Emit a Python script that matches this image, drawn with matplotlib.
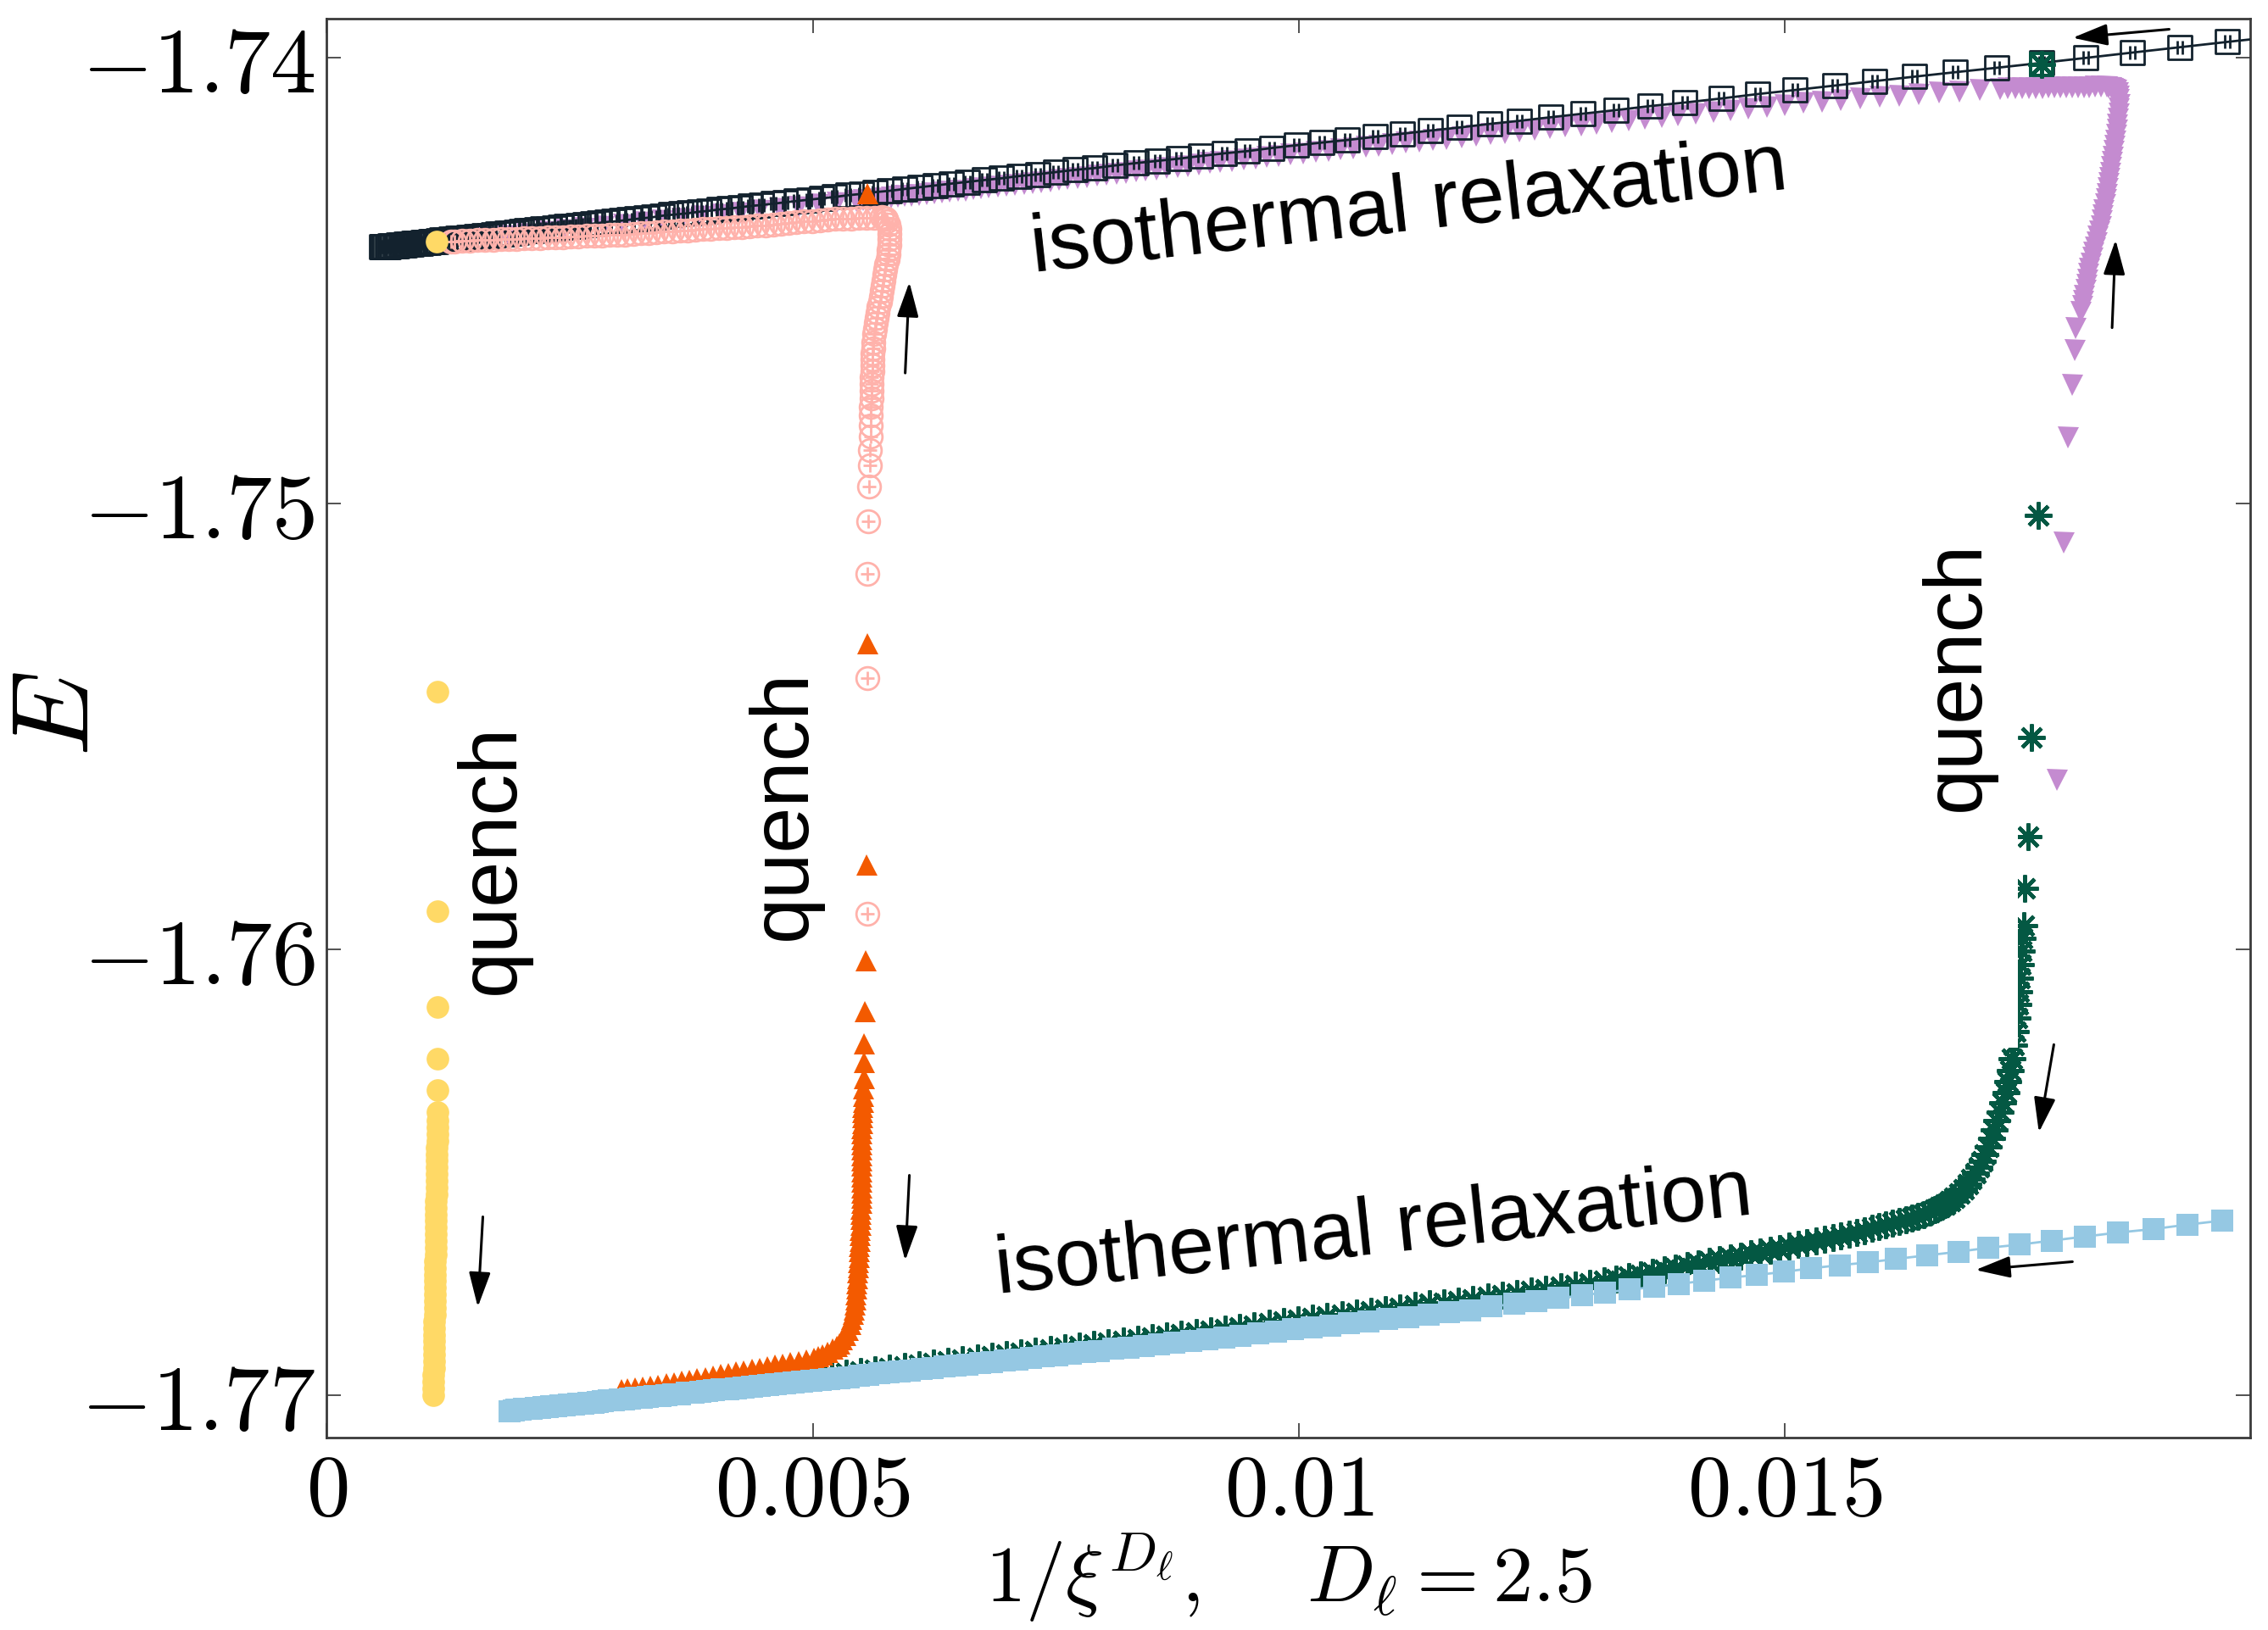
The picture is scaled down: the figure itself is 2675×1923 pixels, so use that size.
import numpy as np
import matplotlib
matplotlib.use("Agg")
import matplotlib.pyplot as plt
from matplotlib.path import Path
from matplotlib.patches import Rectangle

plt.rcParams['mathtext.fontset'] = 'cm'
plt.rcParams['font.family'] = ['DejaVu Serif']

# ---------------- data: (1/xi^D in units of 1e-3, E) ----------------
black_pts = [(20.06,-1.73953),(19.55,-1.73965),(19.06,-1.73977),(18.57,-1.73989),(18.09,-1.74001),(17.64,-1.74012),(17.18,-1.74023),(16.75,-1.74033),(16.33,-1.74043),(15.92,-1.74053),(15.51,-1.74063),(15.10,-1.74073),(14.72,-1.74082),(14.34,-1.74092),(13.97,-1.74101),(13.61,-1.74109),(13.26,-1.74118),(12.92,-1.74126),(12.59,-1.74134),(12.27,-1.74142),(11.96,-1.74149),(11.65,-1.74157),(11.35,-1.74164),(11.06,-1.74171),(10.78,-1.74178),(10.50,-1.74185),(10.23,-1.74191),(9.97,-1.74197),(9.72,-1.74203),(9.47,-1.74210),(9.23,-1.74215),(8.99,-1.74221),(8.76,-1.74227),(8.54,-1.74232),(8.32,-1.74237),(8.11,-1.74242),(7.90,-1.74248),(7.70,-1.74252),(7.50,-1.74257),(7.31,-1.74262),(7.12,-1.74266),(6.94,-1.74271),(6.76,-1.74275),(6.59,-1.74279),(6.42,-1.74283),(6.26,-1.74287),(6.10,-1.74291),(5.94,-1.74295),(5.79,-1.74299),(5.64,-1.74302),(5.50,-1.74306),(5.36,-1.74309),(5.22,-1.74313),(5.09,-1.74316),(4.96,-1.74319),(4.83,-1.74322),(4.71,-1.74325),(4.59,-1.74328),(4.47,-1.74331),(4.36,-1.74333),(4.25,-1.74336),(4.14,-1.74339),(4.03,-1.74341),(3.93,-1.74344),(3.83,-1.74346),(3.73,-1.74349),(3.64,-1.74351),(3.54,-1.74353),(3.45,-1.74355),(3.36,-1.74358),(3.28,-1.74360),(3.19,-1.74362),(3.11,-1.74364),(3.03,-1.74366),(2.95,-1.74368),(2.88,-1.74369),(2.80,-1.74371),(2.73,-1.74373),(2.66,-1.74375),(2.59,-1.74376),(2.53,-1.74378),(2.46,-1.74379),(2.40,-1.74381),(2.34,-1.74382),(2.28,-1.74384),(2.22,-1.74385),(2.16,-1.74387),(2.11,-1.74388),(2.05,-1.74389),(2.00,-1.74391),(1.95,-1.74392),(1.90,-1.74393),(1.85,-1.74394),(1.80,-1.74395),(1.76,-1.74396),(1.71,-1.74398),(1.67,-1.74399),(1.62,-1.74400),(1.58,-1.74401),(1.54,-1.74402),(1.50,-1.74403),(1.46,-1.74404),(1.42,-1.74405),(1.39,-1.74405),(1.35,-1.74406),(1.32,-1.74407),(1.28,-1.74408),(1.25,-1.74409),(1.22,-1.74409),(1.18,-1.74410),(1.15,-1.74411),(1.12,-1.74412),(1.09,-1.74413),(1.07,-1.74413),(1.04,-1.74414),(1.01,-1.74415),(0.99,-1.74415),(0.96,-1.74416),(0.94,-1.74416),(0.91,-1.74417),(0.89,-1.74417),(0.87,-1.74418),(0.84,-1.74419),(0.82,-1.74419),(0.80,-1.74420),(0.78,-1.74420),(0.76,-1.74421),(0.74,-1.74421),(0.72,-1.74422),(0.70,-1.74422),(0.68,-1.74423),(0.67,-1.74423),(0.65,-1.74423),(0.63,-1.74424),(0.62,-1.74424),(0.60,-1.74425),(0.59,-1.74425),(0.57,-1.74425),(0.56,-1.74425)]

violet_pts = [(17.794,-1.75621),(17.867,-1.75088),(17.907,-1.74853),(17.955,-1.74734),(17.975,-1.74657),(17.990,-1.74606),
(18.040,-1.74570),(18.058,-1.74558),(18.068,-1.74546),(18.078,-1.74534),(18.088,-1.74522),(18.098,-1.74510),(18.108,-1.74498),(18.118,-1.74486),(18.129,-1.74474),(18.143,-1.74462),(18.158,-1.74450),(18.173,-1.74438),(18.188,-1.74426),(18.203,-1.74414),(18.218,-1.74402),(18.233,-1.74390),(18.248,-1.74378),(18.258,-1.74366),(18.268,-1.74354),(18.278,-1.74342),(18.288,-1.74330),(18.298,-1.74318),(18.308,-1.74306),(18.318,-1.74294),(18.328,-1.74282),(18.337,-1.74270),(18.346,-1.74258),(18.355,-1.74246),(18.364,-1.74234),(18.373,-1.74222),(18.382,-1.74210),(18.391,-1.74198),(18.400,-1.74186),(18.406,-1.74174),(18.412,-1.74162),(18.418,-1.74150),(18.424,-1.74138),(18.430,-1.74126),(18.436,-1.74114),(18.438,-1.74104),(18.436,-1.74094),(18.430,-1.74085),(18.420,-1.74078),(18.406,-1.74073),(18.390,-1.74070),(18.372,-1.74068),(18.352,-1.74067),(18.330,-1.74066),(18.306,-1.74065),
(18.25,-1.74065),(18.19,-1.74065),(18.13,-1.74066),(18.07,-1.74066),(18.01,-1.74066),(17.95,-1.74066),(17.89,-1.74067),(17.83,-1.74067),(17.77,-1.74067),(17.71,-1.74067),(17.65,-1.74068),(17.58,-1.74068),(17.51,-1.74068),(17.44,-1.74069),(17.37,-1.74069),(17.29,-1.74069),(17.21,-1.74070),
(17.00,-1.74072),(16.79,-1.74076),(16.58,-1.74079),(16.37,-1.74082),(16.17,-1.74085),(15.97,-1.74088),(15.77,-1.74091),(15.57,-1.74095),(15.38,-1.74099),(15.19,-1.74102),(15.00,-1.74106),(14.81,-1.74110),(14.62,-1.74114),(14.44,-1.74118),(14.26,-1.74122),(14.08,-1.74126),(13.90,-1.74130),(13.73,-1.74134),(13.56,-1.74137),(13.39,-1.74141),(13.22,-1.74145),(13.06,-1.74148),(12.90,-1.74152),(12.74,-1.74155),(12.58,-1.74159),(12.42,-1.74162),(12.27,-1.74166),(12.12,-1.74169),(11.97,-1.74172),(11.82,-1.74176),(11.67,-1.74179),(11.52,-1.74182),(11.38,-1.74185),(11.24,-1.74188),(11.10,-1.74191),(10.96,-1.74195),(10.82,-1.74198),(10.69,-1.74200),(10.56,-1.74203),(10.43,-1.74206),(10.30,-1.74209),(10.17,-1.74212),(10.04,-1.74215),(9.91,-1.74217),(9.79,-1.74220),(9.67,-1.74223),(9.55,-1.74226),(9.43,-1.74229),(9.31,-1.74232),(9.19,-1.74235),(9.08,-1.74237),(8.97,-1.74240),(8.86,-1.74243),(8.75,-1.74245),(8.64,-1.74248),(8.53,-1.74251),(8.42,-1.74253),(8.32,-1.74256),(8.22,-1.74258),(8.12,-1.74261),(8.02,-1.74263),(7.92,-1.74265),(7.82,-1.74268),(7.72,-1.74270),(7.62,-1.74273),(7.53,-1.74275),(7.44,-1.74277),(7.35,-1.74279),(7.26,-1.74281),(7.17,-1.74283),(7.08,-1.74286),(6.99,-1.74288),(6.90,-1.74290),(6.81,-1.74292),(6.73,-1.74294),(6.65,-1.74296),(6.57,-1.74298),(6.49,-1.74299),(6.41,-1.74301),(6.33,-1.74303),(6.25,-1.74305),(6.17,-1.74306),(6.09,-1.74308),(6.01,-1.74310),(5.94,-1.74311),(5.87,-1.74313),(5.80,-1.74314),(5.73,-1.74316),(5.66,-1.74317),(5.59,-1.74319),(5.52,-1.74320),(5.45,-1.74322),
(5.25,-1.74326),(5.05,-1.74330),(4.85,-1.74335),(4.65,-1.74339),(4.45,-1.74343),(4.25,-1.74348),(4.05,-1.74352),(3.85,-1.74356),(3.65,-1.74361),(3.45,-1.74365),(3.25,-1.74369),(3.05,-1.74374),(2.85,-1.74378),(2.65,-1.74382),(2.45,-1.74387),(2.25,-1.74391),(2.05,-1.74395),(1.85,-1.74399),(1.65,-1.74404),(1.45,-1.74408),(1.30,-1.74411)]

pink_pts = [(5.556,-1.75921),(5.556,-1.75393),(5.563,-1.75159),(5.572,-1.75041),(5.580,-1.74963),(5.586,-1.74914),(5.589,-1.74880),(5.592,-1.74850),(5.594,-1.74825),(5.597,-1.74803),(5.599,-1.74783),(5.601,-1.74765),(5.603,-1.74748),(5.605,-1.74732),(5.607,-1.74717),(5.609,-1.74703),(5.611,-1.74690),(5.613,-1.74677),(5.615,-1.74664),(5.617,-1.74652),(5.619,-1.74640),
(5.629,-1.74620),(5.638,-1.74608),(5.648,-1.74596),(5.658,-1.74584),(5.668,-1.74572),(5.677,-1.74560),(5.687,-1.74548),(5.697,-1.74536),(5.707,-1.74524),(5.716,-1.74512),(5.726,-1.74500),(5.736,-1.74488),(5.746,-1.74476),(5.755,-1.74464),(5.765,-1.74452),(5.775,-1.74442),(5.782,-1.74432),(5.787,-1.74420),(5.789,-1.74408),(5.788,-1.74396),(5.783,-1.74385),(5.775,-1.74375),(5.763,-1.74367),(5.748,-1.74362),(5.730,-1.74359),(5.710,-1.74358),
(5.63,-1.74359),(5.55,-1.74360),(5.47,-1.74360),(5.39,-1.74361),(5.31,-1.74361),(5.23,-1.74362),(5.15,-1.74364),(5.07,-1.74365),(4.99,-1.74367),(4.91,-1.74368),(4.83,-1.74370),(4.75,-1.74371),(4.67,-1.74373),(4.59,-1.74374),(4.51,-1.74376),(4.43,-1.74377),(4.35,-1.74378),(4.27,-1.74380),(4.19,-1.74381),(4.11,-1.74382),(4.03,-1.74383),(3.95,-1.74384),(3.87,-1.74385),(3.79,-1.74387),(3.71,-1.74388),(3.63,-1.74389),(3.55,-1.74390),(3.47,-1.74391),(3.39,-1.74392),(3.31,-1.74393),(3.23,-1.74394),(3.15,-1.74395),(3.07,-1.74397),(2.99,-1.74397),(2.91,-1.74398),(2.83,-1.74399),(2.75,-1.74400),(2.67,-1.74400),(2.59,-1.74401),(2.51,-1.74402),(2.43,-1.74403),(2.35,-1.74403),(2.27,-1.74404),(2.19,-1.74405),(2.11,-1.74405),(2.03,-1.74406),(1.95,-1.74407),(1.87,-1.74408),(1.79,-1.74408),(1.71,-1.74409),(1.63,-1.74410),(1.55,-1.74410),(1.47,-1.74411),(1.39,-1.74411),(1.31,-1.74412),(1.28,-1.74412)]

green_pts = [(17.64,-1.74015),(17.60,-1.75028),(17.535,-1.75526),(17.497,-1.75748),(17.467,-1.75864),(17.452,-1.75948),(17.440,-1.75975),(17.432,-1.76005),(17.424,-1.76035),(17.415,-1.76065),(17.405,-1.76095),(17.394,-1.76125),(17.382,-1.76155),(17.368,-1.76185),(17.352,-1.76215),(17.334,-1.76245),(17.314,-1.76272),(17.292,-1.76298),(17.268,-1.76322),(17.240,-1.76344),(17.210,-1.76365),(17.180,-1.76385),(17.150,-1.76405),(17.120,-1.76425),(17.090,-1.76443),(17.058,-1.76460),(17.024,-1.76476),(16.990,-1.76490),(16.954,-1.76503),(16.916,-1.76515),(16.876,-1.76527),(16.834,-1.76538),(16.790,-1.76548),(16.744,-1.76557),(16.696,-1.76565),(16.646,-1.76572),(16.594,-1.76579),(16.540,-1.76585),(16.484,-1.76590),(16.426,-1.76595),(16.366,-1.76599),(16.304,-1.76603),(16.240,-1.76607),(16.174,-1.76611),(16.106,-1.76615),(16.036,-1.76619),(15.964,-1.76623),(15.890,-1.76627),(15.814,-1.76631),(15.736,-1.76635),(15.656,-1.76639),(15.574,-1.76643),(15.490,-1.76647),(15.404,-1.76651),(15.316,-1.76655),(15.226,-1.76659),(15.134,-1.76663),(15.040,-1.76667),(14.944,-1.76671),(14.846,-1.76675),(14.746,-1.76679),(14.644,-1.76683),(14.540,-1.76688),(14.434,-1.76692),(14.326,-1.76697),(14.216,-1.76701),(14.104,-1.76706),(13.990,-1.76710),(13.874,-1.76715),(13.756,-1.76720),(13.636,-1.76725),(13.514,-1.76730),(13.390,-1.76735),(13.264,-1.76740),(13.136,-1.76745),
(12.99,-1.76749),(12.84,-1.76754),(12.69,-1.76758),(12.54,-1.76763),(12.39,-1.76767),(12.24,-1.76772),(12.09,-1.76776),(11.94,-1.76781),(11.79,-1.76785),(11.64,-1.76789),(11.49,-1.76793),(11.34,-1.76796),(11.19,-1.76800),(11.04,-1.76804),(10.89,-1.76808),(10.74,-1.76812),(10.59,-1.76816),(10.44,-1.76820),(10.29,-1.76824),(10.14,-1.76828),(9.99,-1.76832),(9.84,-1.76836),(9.69,-1.76840),(9.54,-1.76844),(9.39,-1.76848),(9.24,-1.76852),(9.09,-1.76856),(8.94,-1.76860),(8.79,-1.76863),(8.64,-1.76867),(8.49,-1.76871),(8.34,-1.76875),(8.19,-1.76879),(8.04,-1.76883),(7.89,-1.76886),(7.74,-1.76890),(7.59,-1.76894),(7.44,-1.76898),(7.29,-1.76902),(7.14,-1.76906),(6.99,-1.76910),(6.84,-1.76913),(6.69,-1.76917),(6.54,-1.76921),(6.39,-1.76925),(6.24,-1.76929),(6.09,-1.76933),(5.94,-1.76937),(5.79,-1.76940),(5.64,-1.76944),(5.49,-1.76948),(5.34,-1.76952),(5.19,-1.76956),(5.04,-1.76960)]

orange_pts = [(5.556,-1.74304),(5.556,-1.75315),(5.552,-1.75810),(5.543,-1.76025),(5.534,-1.76140),(5.528,-1.76211),(5.525,-1.76253),(5.522,-1.76289),(5.520,-1.76312),
(5.518,-1.76330),(5.514,-1.76342),(5.511,-1.76354),(5.508,-1.76366),(5.506,-1.76378),(5.504,-1.76390),(5.502,-1.76402),(5.501,-1.76414),(5.500,-1.76426),(5.499,-1.76438),(5.498,-1.76450),(5.497,-1.76462),(5.497,-1.76474),(5.496,-1.76486),(5.496,-1.76498),(5.496,-1.76510),(5.496,-1.76522),(5.496,-1.76534),(5.496,-1.76546),(5.496,-1.76558),
(5.495,-1.76570),(5.493,-1.76582),(5.491,-1.76594),(5.489,-1.76606),(5.487,-1.76618),(5.484,-1.76630),(5.482,-1.76642),(5.479,-1.76654),(5.476,-1.76666),(5.473,-1.76678),(5.469,-1.76690),(5.466,-1.76702),(5.462,-1.76714),(5.458,-1.76726),(5.454,-1.76738),(5.450,-1.76750),(5.446,-1.76762),(5.441,-1.76774),(5.436,-1.76786),(5.431,-1.76797),
(5.422,-1.76808),(5.411,-1.76819),(5.398,-1.76830),(5.382,-1.76841),(5.359,-1.76855),(5.330,-1.76866),(5.300,-1.76876),(5.270,-1.76884),(5.242,-1.76890),(5.200,-1.76897),(5.150,-1.76904),(5.100,-1.76910),(5.055,-1.76914),(5.010,-1.76918),
(4.93,-1.76921),(4.85,-1.76924),(4.77,-1.76927),(4.69,-1.76930),(4.61,-1.76933),(4.53,-1.76936),(4.45,-1.76939),(4.37,-1.76942),(4.29,-1.76945),(4.21,-1.76948),(4.13,-1.76951),(4.05,-1.76954),(3.97,-1.76957),(3.89,-1.76960),(3.81,-1.76963),(3.73,-1.76966),(3.65,-1.76969),(3.57,-1.76972),(3.49,-1.76975),(3.41,-1.76977),(3.33,-1.76979),(3.25,-1.76981),(3.17,-1.76983),(3.09,-1.76985),(3.03,-1.76987)]

blue_pts = [(19.50,-1.76609),(19.14,-1.76618),(18.79,-1.76628),(18.42,-1.76636),(18.08,-1.76645),(17.74,-1.76654),(17.41,-1.76663),(17.09,-1.76670),(16.78,-1.76679),(16.46,-1.76687),(16.14,-1.76695),(15.85,-1.76703),(15.56,-1.76709),(15.27,-1.76716),(14.99,-1.76724),(14.71,-1.76731),(14.44,-1.76737),(14.17,-1.76744),(13.91,-1.76751),(13.65,-1.76758),(13.40,-1.76764),(13.15,-1.76770),(12.91,-1.76777),(12.67,-1.76783),(12.44,-1.76789),(12.21,-1.76796),(11.98,-1.76802),(11.76,-1.76810),(11.54,-1.76815),(11.33,-1.76820),(11.12,-1.76825),(10.91,-1.76830),(10.71,-1.76835),(10.51,-1.76840),(10.32,-1.76844),(10.13,-1.76849),(9.94,-1.76853),(9.76,-1.76858),(9.58,-1.76862),(9.40,-1.76867),(9.23,-1.76871),(9.06,-1.76875),(8.89,-1.76879),(8.72,-1.76883),(8.56,-1.76887),(8.40,-1.76890),(8.25,-1.76894),(8.09,-1.76897),(7.94,-1.76901),(7.80,-1.76904),(7.65,-1.76907),(7.51,-1.76911),(7.37,-1.76914),(7.24,-1.76917),(7.10,-1.76920),(6.97,-1.76923),(6.84,-1.76926),(6.72,-1.76929),(6.59,-1.76932),(6.47,-1.76934),(6.35,-1.76937),(6.23,-1.76940),(6.12,-1.76942),(6.00,-1.76945),(5.89,-1.76948),(5.78,-1.76950),(5.68,-1.76952),(5.57,-1.76955),(5.47,-1.76957),(5.37,-1.76960),(5.27,-1.76962),(5.17,-1.76964),(5.08,-1.76966),(4.98,-1.76968),(4.89,-1.76970),(4.80,-1.76972),(4.71,-1.76974),(4.62,-1.76976),(4.54,-1.76978),(4.45,-1.76980),(4.37,-1.76982),(4.29,-1.76983),(4.21,-1.76985),(4.13,-1.76987),(4.06,-1.76988),(3.98,-1.76990),(3.91,-1.76992),(3.84,-1.76993),(3.77,-1.76995),(3.70,-1.76996),(3.63,-1.76998),(3.56,-1.76999),(3.49,-1.77001),(3.43,-1.77002),(3.37,-1.77003),(3.30,-1.77005),(3.24,-1.77006),(3.18,-1.77007),(3.12,-1.77009),(3.06,-1.77010),(3.01,-1.77011),(2.95,-1.77012),(2.90,-1.77013),(2.84,-1.77015),(2.79,-1.77016),(2.74,-1.77017),(2.69,-1.77018),(2.64,-1.77019),(2.59,-1.77020),(2.54,-1.77021),(2.49,-1.77022),(2.45,-1.77023),(2.40,-1.77024),(2.36,-1.77025),(2.31,-1.77026),(2.27,-1.77027),(2.23,-1.77028),(2.19,-1.77029),(2.15,-1.77030),(2.11,-1.77031),(2.07,-1.77031),(2.03,-1.77032),(1.99,-1.77033),(1.95,-1.77034),(1.92,-1.77035),(1.88,-1.77036)]

yellow_pts = [(1.130,-1.74412),(1.137,-1.75422),(1.137,-1.75915),(1.137,-1.76130),(1.137,-1.76246),(1.137,-1.76317),(1.137,-1.76365),(1.137,-1.76385),
(1.136,-1.76400),(1.135,-1.76415),(1.134,-1.76430),(1.133,-1.76445),(1.132,-1.76460),(1.131,-1.76475),(1.130,-1.76490),(1.129,-1.76505),(1.128,-1.76520),(1.127,-1.76535),(1.126,-1.76550),(1.125,-1.76565),(1.124,-1.76580),(1.123,-1.76595),(1.122,-1.76610),(1.121,-1.76625),(1.120,-1.76640),(1.119,-1.76655),(1.118,-1.76670),(1.117,-1.76685),(1.116,-1.76700),(1.115,-1.76715),(1.114,-1.76730),(1.113,-1.76745),(1.112,-1.76760),(1.111,-1.76775),(1.110,-1.76790),(1.109,-1.76805),(1.108,-1.76820),(1.107,-1.76835),(1.106,-1.76850),(1.105,-1.76865),(1.104,-1.76880),(1.103,-1.76895),(1.102,-1.76910),(1.101,-1.76925),(1.100,-1.76940),(1.099,-1.76955),(1.098,-1.76970),(1.097,-1.76985),(1.096,-1.77000)]

xticks = [0, 0.005, 0.01, 0.015]
xtick_labels = ['$0$', '$0.005$', '$0.01$', '$0.015$']
yticks = [-1.77, -1.76, -1.75, -1.74]
ytick_labels = ['$-1.77$', '$-1.76$', '$-1.75$', '$-1.74$']

# ---------------- styles ----------------
c_black = '#13222e'
c_violet = '#c48bd0'
c_pink = '#ffb2ab'
c_green = '#045843'
c_orange = '#f35a00'
c_blue = '#95c8e3'
c_yellow = '#ffd966'

sq = Path([(-1, -1), (1, -1), (1, 1), (-1, 1), (-1, -1)],
          [Path.MOVETO, Path.LINETO, Path.LINETO, Path.LINETO, Path.CLOSEPOLY])
bars = Path([(-0.22, -0.62), (-0.22, 0.62), (0.22, -0.62), (0.22, 0.62)],
            [Path.MOVETO, Path.LINETO, Path.MOVETO, Path.LINETO])
hash_square = Path.make_compound_path(sq, bars)
plus = Path([(-0.6, 0), (0.6, 0), (0, -0.6), (0, 0.6)],
            [Path.MOVETO, Path.LINETO, Path.MOVETO, Path.LINETO])
oplus = Path.make_compound_path(Path.unit_circle(), plus)


def xy(pts):
    a = np.array(pts, dtype=float)
    return a[:, 0] * 1e-3, a[:, 1]


fig = plt.figure(figsize=(13.375, 9.615), dpi=200)
ax = fig.add_axes([0.1441, 0.1180, 0.8479, 0.8708])

bx, bE = xy(black_pts)
vx, vE = xy(violet_pts)
px_, pE = xy(pink_pts)
gx, gE = xy(green_pts)
ox, oE = xy(orange_pts)
lx, lE = xy(blue_pts)
yx, yE = xy(yellow_pts)

ax.plot(vx, vE, ls='none', marker='v', ms=9.0, color=c_violet, mec=c_violet, mew=0, zorder=2)
ax.plot(bx, bE, '-', color=c_black, lw=1.0, marker=hash_square, ms=9.8,
        mfc='none', mec=c_black, mew=1.0, zorder=3)
ax.plot(px_, pE, ls='none', marker=oplus, ms=9.6, mfc='none', mec=c_pink, mew=1.0, zorder=4)
ax.plot(gx, gE, ls='none', marker=(8, 2, 0), ms=11.5, mec=c_green, color=c_green, mew=1.6, zorder=4)
ax.plot(gx[:1], gE[:1], ls='none', marker='s', ms=9.6, mfc='none', mec=c_green, mew=1.4, zorder=4)
ax.plot(ox, oE, ls='none', marker='^', ms=9.0, color=c_orange, mec=c_orange, mew=0, zorder=5)
ax.plot(lx, lE, '-', color=c_blue, lw=1.0, marker='s', ms=9.4, mec=c_blue, mew=0, zorder=6)
ax.plot(yx, yE, ls='none', marker='o', ms=9.6, color=c_yellow, mec=c_yellow, mew=0, zorder=7)

# white box behind the right "quench" label (hides part of the green curve, as in the original)
ax.add_patch(Rectangle((0.0164, -1.76221), 0.00099, 0.0062, fc='white', ec='none', zorder=8))

# ---------------- annotations ----------------
tfont = dict(family=['Liberation Sans', 'DejaVu Sans'], fontsize=35, color='black', zorder=10)
ax.text(0.01113, -1.74341, 'isothermal relaxation', rotation=6.3, ha='center', va='center', **tfont)
ax.text(0.01077, -1.76636, 'isothermal relaxation', rotation=6.0, ha='center', va='center', **tfont)
ax.text(0.001702, -1.757987, 'quench', rotation=90, ha='center', va='center', **tfont)
ax.text(0.004707, -1.756753, 'quench', rotation=90, ha='center', va='center', **tfont)
ax.text(0.01677, -1.753864, 'quench', rotation=90, ha='center', va='center', **tfont)

arrows = [((0.018950, -1.739367), (0.017958, -1.739558)),
          ((0.018363, -1.746062), (0.018399, -1.744091)),
          ((0.005949, -1.747078), (0.005992, -1.745039)),
          ((0.005992, -1.765075), (0.005949, -1.766987)),
          ((0.001605, -1.766006), (0.001553, -1.768029)),
          ((0.017764, -1.762143), (0.017610, -1.764110)),
          ((0.017955, -1.767013), (0.016958, -1.767198))]
for tail, head in arrows:
    ax.annotate('', xy=head, xytext=tail,
                arrowprops=dict(arrowstyle='-|>,head_length=0.45,head_width=0.14',
                                color='black', lw=1.1, mutation_scale=28,
                                shrinkA=0, shrinkB=0), zorder=10)

# ---------------- axes ----------------
ax.set_xlim(0, 0.01978)
ax.set_ylim(-1.77096, -1.73912)
ax.set_xticks(xticks)
ax.set_xticklabels(xtick_labels)
ax.set_yticks(yticks)
ax.set_yticklabels(ytick_labels)
ax.tick_params(direction='in', top=True, right=True, length=6, width=0.6,
               labelsize=39, color='#333333')
ax.tick_params(axis='x', pad=5, labelsize=37)
ax.tick_params(axis='y', pad=5)
for s in ax.spines.values():
    s.set_linewidth(1.0)
    s.set_color('#3a3a3a')

ax.set_xlabel(r'$1/\xi^{D_\ell},\quad\;D_\ell = 2.5$', fontsize=34)
ax.xaxis.set_label_coords(0.5, -0.066)
ax.set_ylabel(r'$E$', fontsize=46)
ax.yaxis.set_label_coords(-0.112, 0.51)

fig.savefig('out.png', dpi=200, facecolor='white')
